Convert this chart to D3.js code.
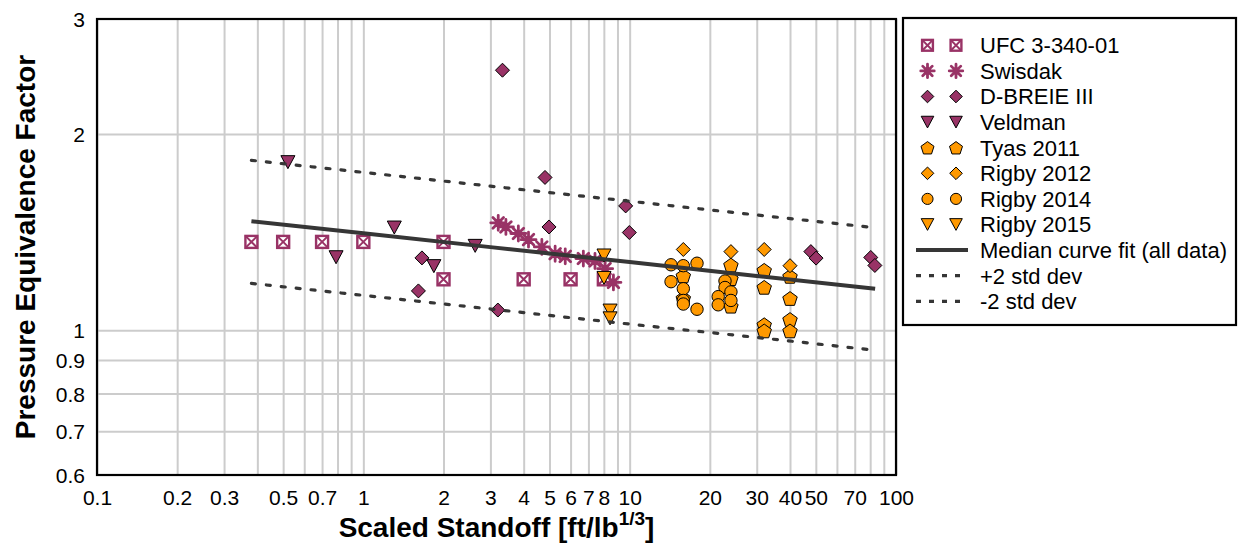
<!DOCTYPE html>
<html><head><meta charset="utf-8">
<script src="https://cdn.jsdelivr.net/npm/d3@7"></script>
<style>html,body{margin:0;padding:0;background:#fff} svg{display:block;font-family:"Liberation Sans",Arial,sans-serif}</style>
</head><body><svg id="c" width="1238" height="547"></svg>
<script>
// ---------- data ----------
const xTickValues = [0.1,0.2,0.3,0.5,0.7,1,2,3,4,5,6,7,8,10,20,30,40,50,70,100];
const yTickValues = [0.6,0.7,0.8,0.9,1,2,3];
const yGridValues = [0.7,0.8,0.9,1,2];

const ufcX = [0.38,0.5,0.7,1,2,2,4,6,8];
const ufcY = [1.366,1.366,1.366,1.366,1.366,1.197,1.197,1.197,1.197];

const swisdakX = [3.21,3.43,3.82,4.17,4.68,5.25,5.73,6.70,7.41,8.09,8.69];
const swisdakY = [1.461,1.44,1.407,1.377,1.342,1.31,1.298,1.288,1.277,1.243,1.184];

const dbreieX = [1.66,1.61,3.33,4.81,4.98,3.20,9.66,9.97,47.9,50.1,80.4,83.3];
const dbreieY = [1.291,1.149,2.504,1.715,1.44,1.074,1.551,1.412,1.32,1.29,1.293,1.257];

const veldmanX = [0.521,0.79,1.307,1.84,2.63];
const veldmanY = [1.81,1.294,1.437,1.254,1.347];

const tyasX = [15.9,15.9,24.0,24.0,24.0,32.0,32.0,32.0,32.0,40.0,40.0,40.0,40.0];
const tyasY = [1.212,1.12,1.259,1.2,1.089,1.236,1.164,1.02,0.998,1.21,1.119,1.039,0.998];

const rigby2012X = [15.9,24.0,32.0,40.0];
const rigby2012Y = [1.33,1.32,1.33,1.256];

const rigby2014X = [14.3,15.9,17.9,14.3,15.9,15.9,15.9,17.9,22.8,22.8,24.0,21.5,21.5,24.0];
const rigby2014Y = [1.26,1.256,1.267,1.187,1.158,1.111,1.097,1.077,1.19,1.163,1.145,1.126,1.094,1.111];

const rigby2015X = [8.01,8.01,8.44,8.44];
const rigby2015Y = [1.302,1.203,1.072,1.043];

const fitX    = [0.38,1,3,10,30,83.5];
const medianY = [1.469,1.408,1.341,1.272,1.211,1.158];
const plus2Y  = [1.822,1.746,1.663,1.577,1.502,1.436];
const minus2Y = [1.18,1.131,1.078,1.022,0.975,0.932];

const PURPLE = "#993366", ORANGE = "#FF9900", LINE = "#363636";

const series = [
  {name:"UFC 3-340-01", xs:ufcX, ys:ufcY, shape:"ufc", color:PURPLE},
  {name:"Swisdak", xs:swisdakX, ys:swisdakY, shape:"star", color:PURPLE},
  {name:"D-BREIE III", xs:dbreieX, ys:dbreieY, shape:"diamond", color:PURPLE},
  {name:"Veldman", xs:veldmanX, ys:veldmanY, shape:"tri", color:PURPLE},
  {name:"Tyas 2011", xs:tyasX, ys:tyasY, shape:"pent", color:ORANGE},
  {name:"Rigby 2012", xs:rigby2012X, ys:rigby2012Y, shape:"diamond", color:ORANGE},
  {name:"Rigby 2014", xs:rigby2014X, ys:rigby2014Y, shape:"circle", color:ORANGE},
  {name:"Rigby 2015", xs:rigby2015X, ys:rigby2015Y, shape:"tri", color:ORANGE}
];
const lines = [
  {name:"Median curve fit (all data)", ys:medianY, dash:null, width:4},
  {name:"+2 std dev", ys:plus2Y, dash:"4 11", width:3.2},
  {name:"-2 std dev", ys:minus2Y, dash:"4 11", width:3.2}
];

// ---------- layout ----------
const L = 97, R = 896, T = 19, B = 475;
const svg = d3.select("#c");
const x = d3.scaleLog().domain([0.1,100]).range([L,R]);
const y = d3.scaleLog().domain([0.6,3]).range([B,T]);

// grid
svg.append("g").attr("transform",`translate(0,${B})`)
  .call(d3.axisBottom(x).tickValues(x.ticks()).tickSize(-(B-T)).tickFormat(""))
  .call(g=>g.select(".domain").remove())
  .call(g=>g.selectAll("line").attr("stroke","#cccccc").attr("stroke-width",2));
svg.append("g").attr("transform",`translate(${L},0)`)
  .call(d3.axisLeft(y).tickValues(yGridValues).tickSize(-(R-L)).tickFormat(""))
  .call(g=>g.select(".domain").remove())
  .call(g=>g.selectAll("line").attr("stroke","#cccccc").attr("stroke-width",2));

// tick labels
const fmt = d=>String(d);
svg.append("g").attr("transform",`translate(0,${B})`)
  .call(d3.axisBottom(x).tickValues(xTickValues).tickSize(0).tickPadding(0).tickFormat(fmt))
  .call(g=>g.select(".domain").remove())
  .call(g=>g.selectAll("text").attr("y",30).attr("dy",null).attr("font-size",21)
     .attr("fill","#000").style("font-family",'"Liberation Sans",Arial,sans-serif'));
svg.append("g").attr("transform",`translate(${L},0)`)
  .call(d3.axisLeft(y).tickValues(yTickValues).tickSize(0).tickPadding(12).tickFormat(fmt))
  .call(g=>g.select(".domain").remove())
  .call(g=>g.selectAll("text").attr("dy","0.36em").attr("font-size",21)
     .attr("fill","#000").style("font-family",'"Liberation Sans",Arial,sans-serif'));

// markers
function drawMarker(g, shape, color, s){
  s = s||1;
  if(shape==="ufc"){
    g.append("rect").attr("x",-6*s).attr("y",-6*s).attr("width",12*s).attr("height",12*s)
      .attr("fill","#fff").attr("stroke",color).attr("stroke-width",2.4);
    g.append("path").attr("d",`M${-6*s},${-6*s}L${6*s},${6*s}M${6*s},${-6*s}L${-6*s},${6*s}`)
      .attr("stroke",color).attr("stroke-width",2);
  } else if(shape==="star"){
    const r=7.5*s; let d="";
    for(let i=0;i<4;i++){const a=i*Math.PI/4;d+=`M${-r*Math.cos(a)},${-r*Math.sin(a)}L${r*Math.cos(a)},${r*Math.sin(a)}`;}
    g.append("path").attr("d",d).attr("stroke",color).attr("stroke-width",2.8).attr("stroke-linecap","round");
    g.append("circle").attr("r",2.5*s).attr("fill",color);
  } else if(shape==="diamond"){
    const r=7*s;
    g.append("path").attr("d",`M0,${-r}L${r},0L0,${r}L${-r},0Z`).attr("fill",color).attr("stroke","#000").attr("stroke-width",1);
  } else if(shape==="tri"){
    const w=7*s,h=6.5*s;
    g.append("path").attr("d",`M${-w},${-h}L${w},${-h}L0,${h}Z`).attr("fill",color).attr("stroke","#000").attr("stroke-width",1);
  } else if(shape==="pent"){
    const r=7.6*s; const pts=d3.range(5).map(i=>{const a=-Math.PI/2+i*2*Math.PI/5;return [r*Math.cos(a),r*Math.sin(a)+0.8*s];});
    g.append("path").attr("d","M"+pts.map(p=>p.join(",")).join("L")+"Z").attr("fill",color).attr("stroke","#000").attr("stroke-width",1);
  } else if(shape==="circle"){
    g.append("circle").attr("r",6.2*s).attr("fill",color).attr("stroke","#000").attr("stroke-width",1);
  }
}
const plot = svg.append("g");
series.forEach(sr=>{
  const data = sr.xs.map((v,i)=>[v,sr.ys[i]]);
  plot.append("g").selectAll("g").data(data).join("g")
    .attr("transform",d=>`translate(${x(d[0])},${y(d[1])})`)
    .each(function(){drawMarker(d3.select(this),sr.shape,sr.color,1);});
});

// fit lines
const lineGen = d3.line().x(d=>x(d[0])).y(d=>y(d[1]));
lines.forEach(ln=>{
  plot.append("path").datum(fitX.map((v,i)=>[v,ln.ys[i]]))
    .attr("d",lineGen).attr("fill","none").attr("stroke",LINE).attr("stroke-width",ln.width)
    .attr("stroke-dasharray",ln.dash).attr("stroke-linecap",ln.dash?"round":"butt");
});

// frame
svg.append("rect").attr("x",L).attr("y",T).attr("width",R-L).attr("height",B-T)
  .attr("fill","none").attr("stroke","#000").attr("stroke-width",2.2);

// axis titles
svg.append("text").attr("transform",`translate(35,${(T+B)/2}) rotate(-90)`)
  .attr("text-anchor","middle").attr("font-size",28).attr("font-weight","bold").text("Pressure Equivalence Factor");
const xt = svg.append("text").attr("x",(L+R)/2).attr("y",537).attr("text-anchor","middle")
  .attr("font-size",28).attr("font-weight","bold");
xt.append("tspan").text("Scaled Standoff [ft/lb");
xt.append("tspan").attr("font-size",19).attr("dy",-12).text("1/3");
xt.append("tspan").attr("dy",12).text("]");

// legend
const lg = svg.append("g");
lg.append("rect").attr("x",903).attr("y",18).attr("width",333).attr("height",307)
  .attr("fill","#fff").attr("stroke","#000").attr("stroke-width",2.2);
const rowY = i=>45.3+i*25.6;
series.forEach((sr,i)=>{
  [927.5,956].forEach(mx=>{
    const g=lg.append("g").attr("transform",`translate(${mx},${rowY(i)})`);
    drawMarker(g,sr.shape,sr.color,0.9);
  });
  lg.append("text").attr("x",980).attr("y",rowY(i)).attr("dy","0.36em").attr("font-size",22).text(sr.name);
});
lines.forEach((ln,j)=>{
  const i=series.length+j;
  lg.append("line").attr("x1",916).attr("x2",968).attr("y1",rowY(i)).attr("y2",rowY(i))
    .attr("stroke",LINE).attr("stroke-width",ln.width).attr("stroke-dasharray",ln.dash?"5 8":null);
  lg.append("text").attr("x",980).attr("y",rowY(i)).attr("dy","0.36em").attr("font-size",22).text(ln.name);
});
</script></body></html>
